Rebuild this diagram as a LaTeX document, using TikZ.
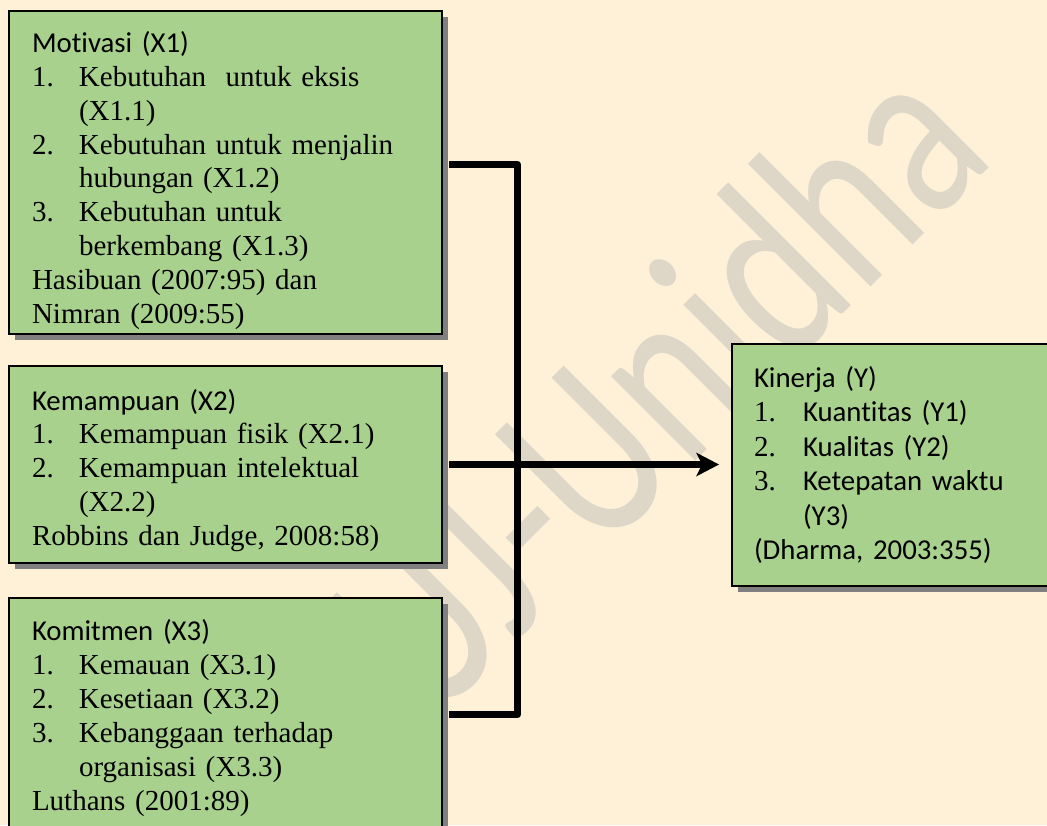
\documentclass[tikz,border=0pt]{standalone}
\usepackage{fontspec}
\setmainfont{Liberation Serif}
\newfontfamily\calfont[Ligatures=NoCommon]{Carlito}
\usetikzlibrary{arrows.meta,shadows}

\definecolor{paper}{HTML}{FEF1D8}
\definecolor{boxgreen}{HTML}{A9D18E}
\definecolor{shade}{HTML}{808080}
\definecolor{wmark}{HTML}{DED7C7}

\newcommand{\hd}[1]{{\calfont\fontsize{28.8}{33.9}\selectfont #1}}
\newcommand{\nitem}[2]{\makebox[47pt][l]{#1}#2}
\newcommand{\cont}[1]{\hspace*{47pt}#1}
\newcommand{\kitem}[2]{\makebox[49pt][l]{#1}\hd{#2}}
\newcommand{\kcont}[1]{\hspace*{49pt}\hd{#1}}

\tikzset{
  varbox/.style={draw, line width=2pt, fill=boxgreen, anchor=north west,
    align=left, inner xsep=23pt, inner ysep=0pt, text width=387pt,
    font=\fontsize{29}{33.9}\selectfont,
    general shadow={fill=shade, shadow xshift=5.5pt, shadow yshift=-5.5pt}},
  link/.style={line width=7pt, line join=round},
}

\begin{document}
\begin{tikzpicture}[x=1pt,y=1pt]
\clip (0,0) rectangle (1047,-825);
\fill[paper] (0,0) rectangle (1047,-825);
% watermark
\node[text=wmark, rotate=45, xscale=0.77, font=\calfont\fontsize{250}{250}\selectfont] (wm) at (653,-383) {UJ-Unidha};

% variabel bebas
\node[varbox, minimum height=323pt] (mot) at (8,-10) {%
\hd{\rule{0pt}{37pt}Motivasi (X1)}\\
\nitem{1.}{Kebutuhan\ \ untuk eksis}\\
\cont{(X1.1)}\\
\nitem{2.}{Kebutuhan untuk menjalin}\\
\cont{hubungan (X1.2)}\\
\nitem{3.}{Kebutuhan untuk}\\
\cont{berkembang (X1.3)}\\
Hasibuan (2007:95) dan\\
Nimran (2009:55)};
\node[varbox, minimum height=197pt] (kem) at (8,-365) {%
\hd{\rule{0pt}{33pt}Kemampuan (X2)}\\
\nitem{1.}{Kemampuan fisik (X2.1)}\\
\nitem{2.}{Kemampuan intelektual}\\
\cont{(X2.2)}\\
Robbins dan Judge, 2008:58)};
\node[varbox, minimum height=240pt] (kom) at (8,-597) {%
\hd{Komitmen (X3)}\\
\nitem{1.}{Kemauan (X3.1)}\\
\nitem{2.}{Kesetiaan (X3.2)}\\
\nitem{3.}{Kebanggaan terhadap}\\
\cont{organisasi (X3.3)}\\
Luthans (2001:89)};

% variabel terikat
\node[varbox, minimum height=242pt, text width=296pt, inner xsep=22pt,
  font=\fontsize{29}{34.4}\selectfont] (kin) at (731,-343) {%
\hd{Kinerja (Y)}\\
\kitem{1.}{Kuantitas (Y1)}\\
\kitem{2.}{Kualitas (Y2)}\\
\kitem{3.}{Ketepatan waktu}\\
\kcont{(Y3)}\\
\hd{(Dharma, 2003:355)}};

% garis penghubung
\draw[link] ([xshift=6pt,yshift=8pt]mot.east) -- ++(68.5,0) |- ([xshift=6pt,yshift=3.5pt]kom.east);
\draw[link, -{Stealth[length=23pt,width=24pt,inset=6pt,line width=0pt]}, shorten >=12pt]
  ([xshift=6pt]kem.east) -- (kem.east -| kin.west);
\end{tikzpicture}
\end{document}
